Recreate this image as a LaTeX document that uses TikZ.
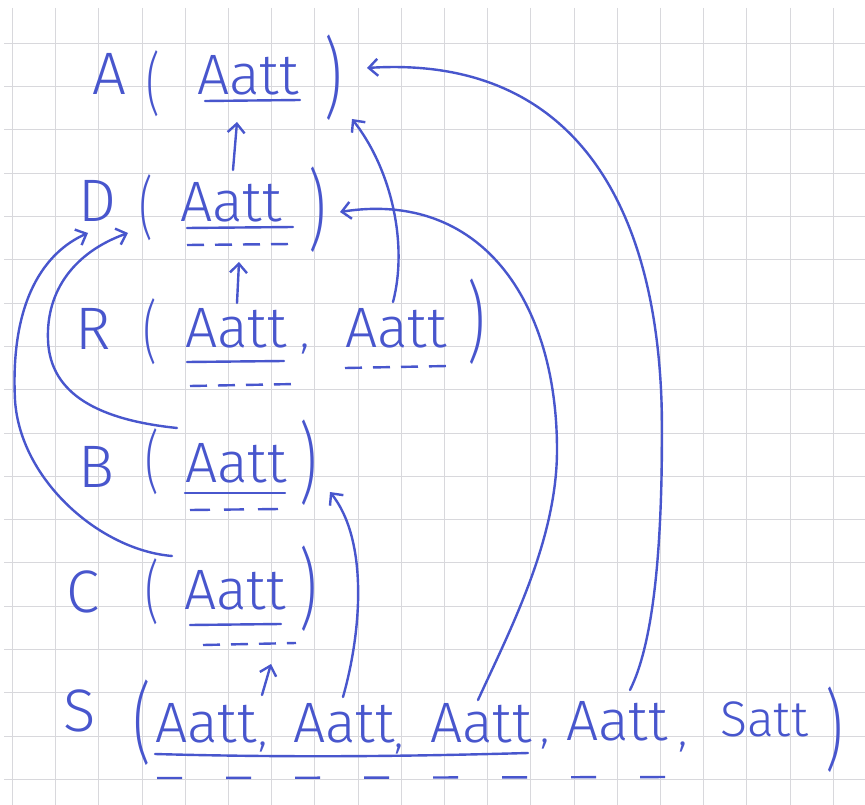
\documentclass[tikz,border=0pt]{standalone}
\usepackage{fontspec}
\setmainfont{Fira Sans}[UprightFont=* Light]
\usetikzlibrary{arrows.meta}
\definecolor{inkc}{RGB}{72,86,205}
\definecolor{gridc}{RGB}{216,216,220}
\newcommand\thinp[1]{\scalebox{0.62}[1]{#1}}
\begin{document}
\begin{tikzpicture}[x=1pt,y=-1pt,
  ink/.style={draw=inkc,line width=2.4pt,line cap=round,line join=round},
  arr/.style={ink,-{Straight Barb[length=9pt,width=17pt,line width=2.4pt]}},
  dashu/.style={ink,line cap=butt,dash pattern=on 17pt off 11pt},
  hwtxt/.style={text=inkc,inner sep=0pt,anchor=base west},
  hwbig/.style={hwtxt,font=\fontsize{60}{60}\selectfont},
  hwatt/.style={hwtxt,font=\fontsize{57}{57}\selectfont},
  hwsatt/.style={hwtxt,font=\fontsize{50}{50}\selectfont},
  hwlp/.style={text=inkc,inner sep=0pt,anchor=center,font=\fontsize{68}{68}\selectfont},
  hwrp/.style={text=inkc,inner sep=0pt,anchor=center,font=\fontsize{88}{88}\selectfont},
  hwcomma/.style={hwtxt,font=\fontsize{44}{44}\selectfont},
  gridline/.style={draw=gridc,line width=0.9pt}]
\useasboundingbox (0,0) rectangle (865,805);
\fill[white] (0,0) rectangle (865,805);
% grid paper
\foreach \i in {0,...,19} \draw[gridline] ({12.5+43.2*\i},8) -- ({12.5+43.2*\i},805);
\foreach \j in {1,...,18} \draw[gridline] (4,{43.3*\j}) -- (865,{43.3*\j});

% Row A
\node[hwbig] (nA) at (92,95) {A};
\node[hwlp]  (pA) at (153,84) {\thinp{(}};
\node[hwatt] (aA) at (197,95) {Aatt};
\node[hwrp]  (qA) at (333,78) {\thinp{)}};
\draw[ink] (205,101) -- (300,100);

% Row D
\node[hwbig] (nD) at (78,222) {D};
\node[hwlp]  (pD) at (146,208) {\thinp{(}};
\node[hwatt] (aD) at (180,222) {Aatt};
\node[hwrp]  (qD) at (317,210) {\thinp{)}};
\draw[ink] (187,228) -- (293,227);
\draw[dashu] (187,245) -- (292,244);

% Row R
\node[hwbig] (nR) at (75,349) {R};
\node[hwlp]  (pR) at (150,332) {\thinp{(}};
\node[hwatt] (aR1) at (185,347) {Aatt};
\node[hwcomma]  (cR) at (300,347) {,};
\node[hwatt] (aR2) at (345,347) {Aatt};
\node[hwrp]  (qR) at (476,322) {\thinp{)}};
\draw[ink] (187,362) -- (284,361);
\draw[dashu] (190,386) -- (296,384);
\draw[dashu] (345,368) -- (447,366);

% Row B
\node[hwbig] (nB) at (78,487) {B};
\node[hwlp]  (pB) at (152,462) {\thinp{(}};
\node[hwatt] (aB) at (185,482) {Aatt};
\node[hwrp]  (qB) at (308,463) {\thinp{)}};
\draw[ink] (185,493) -- (285,493);
\draw[ink,line cap=butt,dash pattern=on 20pt off 14pt] (190,510) -- (280,509);

% Row C
\node[hwbig] (nC) at (66,612) {C};
\node[hwlp]  (pC) at (152,592) {\thinp{(}};
\node[hwatt] (aC) at (184,609) {Aatt};
\node[hwrp]  (qC) at (308,589) {\thinp{)}};
\draw[ink] (190,625) -- (281,624);
\draw[dashu] (203,645) -- (296,643);

% Row S
\node[hwbig] (nS) at (63,731) {S};
\node[hwrp]  (pS) at (142,723) {\thinp{(}};
\node[hwatt] (aS1) at (155,742) {Aatt};
\node[hwcomma]  (cS1) at (258,745) {,};
\node[hwatt] (aS2) at (293,742) {Aatt};
\node[hwcomma]  (cS2) at (394,747) {,};
\node[hwatt] (aS3) at (430,742) {Aatt};
\node[hwcomma]  (cS3) at (540,742) {,};
\node[hwatt] (aS4) at (566,740) {Aatt};
\node[hwcomma]  (cS4) at (678,745) {,};
\node[hwsatt] (sS) at (720,736) {Satt};
\node[hwrp]  (qS) at (834,730) {\thinp{)}};
\draw[ink] (155,754) .. controls (300,758) and (420,756) .. (528,753);
\draw[ink,line cap=butt,dash pattern=on 25pt off 44pt] (157,778) -- (682,777);

% arrow end points
\coordinate (eDA) at (233,170);  \coordinate (tDA) at (237,122);
\coordinate (eRD) at (237,303);  \coordinate (tRD) at (239,262);
\coordinate (eRA) at (393,302);  \coordinate (tRA) at (352,119);
\coordinate (eSC) at (262,695);  \coordinate (tSC) at (271,664);
\coordinate (eSB) at (343,697);  \coordinate (tSB) at (330,492);
\coordinate (eSD) at (478,700);  \coordinate (tSD) at (340,212);
\coordinate (eSA) at (630,690);  \coordinate (tSA) at (367,68);
\coordinate (eCD) at (172,556);  \coordinate (tCD) at (88,233);
\coordinate (eBD) at (177,428);  \coordinate (tBD) at (128,233);

\draw[arr] (eDA) -- (tDA);
\draw[arr] (eRD) -- (tRD);
\draw[arr] (eRA) .. controls (408,245) and (392,170) .. (tRA);
\draw[arr] (eSC) -- (tSC);
\draw[arr] (eSB) .. controls (362,630) and (368,540) .. (tSB);
\draw[arr] (eSD) .. controls (510,630) and (557,540) .. (557,450)
                  .. controls (557,300) and (480,190) .. (tSD);
\draw[arr] (eSA) .. controls (655,640) and (662,540) .. (662,430)
                  .. controls (662,200) and (570,55) .. (tSA);
\draw[arr] (eCD) .. controls (100,550) and (20,480) .. (15,400)
                  .. controls (10,300) and (45,252) .. (tCD);
\draw[arr] (eBD) .. controls (100,420) and (50,395) .. (48,340)
                  .. controls (46,290) and (75,252) .. (tBD);
\end{tikzpicture}
\end{document}
